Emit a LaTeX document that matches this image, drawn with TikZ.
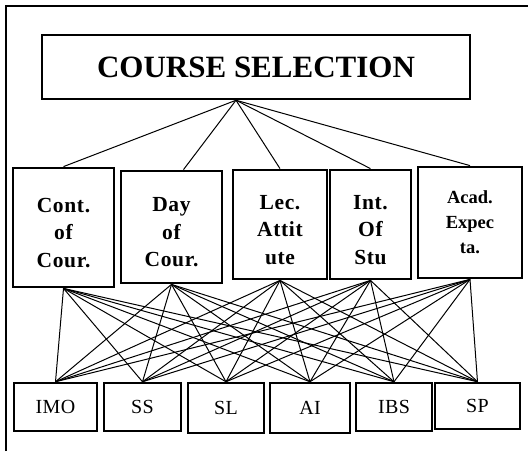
\documentclass[tikz,border=0pt]{standalone}
\usepackage{fontspec}
\setmainfont{Liberation Serif}
\usetikzlibrary{calc}
\begin{document}
\begin{tikzpicture}[x=1pt,y=-1pt,
  topbox/.style={draw,line width=2.5pt,minimum width=428pt,minimum height=64pt,inner sep=0pt,
    font=\fontsize{31}{34}\selectfont\bfseries},
  midbox/.style={draw,line width=2.8pt,inner sep=0pt,align=center,
    font=\addfontfeature{LetterSpace=3}\fontsize{21.5}{27.5}\selectfont\bfseries},
  botbox/.style={draw,line width=2.5pt,inner sep=0pt,minimum height=48pt,
    font=\addfontfeature{LetterSpace=2}\fontsize{20}{22}\selectfont},
  link/.style={line width=1pt}]
\useasboundingbox (0,0) rectangle (528,451);
\draw[line width=2pt] (6,451) -- (6,6) -- (528,6);
\node[topbox] (top) at (256,67) {COURSE SELECTION};
\coordinate (ap) at ($(top.south)+(-20pt,0)$);
\node[midbox,minimum width=101pt,minimum height=119pt] (m1) at (63.5,227.5) {\rule{0pt}{25pt}Cont.\\of\\Cour.};
\node[midbox,minimum width=101pt,minimum height=112pt] (m2) at (171.5,227) {\rule{0pt}{25pt}Day\\of\\Cour.};
\node[midbox,minimum width=94pt,minimum height=109pt] (m3) at (280,224.5) {\rule{0pt}{25pt}Lec.\\Attit\\ute};
\node[midbox,minimum width=81pt,minimum height=109pt] (m4) at (370.5,224.5) {\rule{0pt}{25pt}Int.\\Of\\Stu};
\node[midbox,minimum width=104pt,minimum height=111pt,
  font=\fontsize{18.5}{25}\selectfont\bfseries] (m5) at (470,222.5) {Acad.\\Expec\\ta.};
\node[botbox,minimum width=83pt] (b1) at (55.5,407) {IMO};
\node[botbox,minimum width=77pt] (b2) at (142.5,407) {SS};
\node[botbox,minimum width=76pt,minimum height=50pt] (b3) at (226,408) {SL};
\node[botbox,minimum width=80pt,minimum height=50pt] (b4) at (310,408) {AI};
\node[botbox,minimum width=76pt] (b5) at (394,407) {IBS};
\node[botbox,minimum width=85pt,minimum height=46pt] (b6) at (477.5,406) {SP};
\draw[link] (ap) -- (m1.north);
\draw[link] (ap) -- ($(m2.north)+(12pt,0)$);
\draw[link] (ap) -- (m3.north);
\draw[link] (ap) -- (m4.north);
\draw[link] (ap) -- (m5.north);
\foreach \m in {m1,m2,m3,m4,m5}
  \foreach \b in {b1,b2,b3,b4,b5,b6}
    \draw[link] (\m.south) -- (\b.north);
\end{tikzpicture}
\end{document}
